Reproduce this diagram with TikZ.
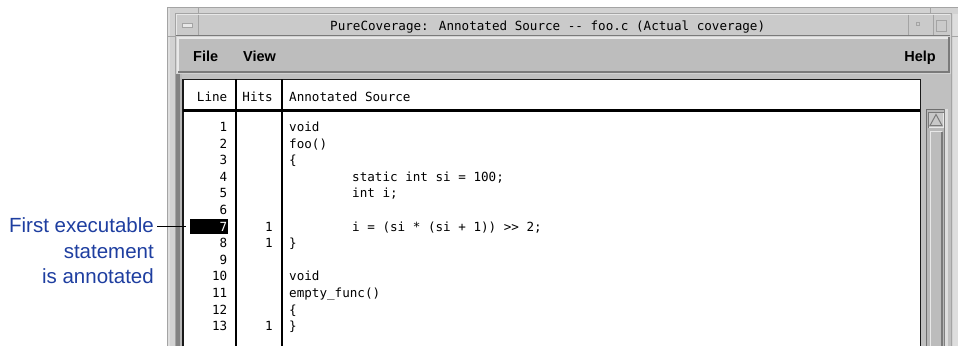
\documentclass[tikz,border=0pt]{standalone}
\usepackage{fontspec}
\newfontfamily\monof{DejaVu Sans Mono}
\newfontfamily\sansf{Liberation Sans}
\usetikzlibrary{calc}
\definecolor{callblue}{RGB}{30,62,160}
\definecolor{frameL}{HTML}{D2D2D2}
\definecolor{frameLL}{HTML}{DEDEDE}
\definecolor{frameLn}{HTML}{A4A4A4}
\definecolor{titlebg}{HTML}{CACACA}
\definecolor{menubg}{HTML}{BDBDBD}
\definecolor{workbg}{HTML}{C0C0C0}
\definecolor{bevL}{HTML}{E8E8E8}
\definecolor{bevD}{HTML}{7A7A7A}
\definecolor{gA}{HTML}{828282}
\definecolor{gB}{HTML}{B8B8B8}
\definecolor{gC}{HTML}{6E6E6E}
\definecolor{gD}{HTML}{808080}
\definecolor{gE}{HTML}{DEDEDE}
\definecolor{gF}{HTML}{C8C8C8}
\definecolor{gG}{HTML}{BCBCBC}
\tikzset{
  code/.style={font=\monof\fontsize{12.6}{14}\selectfont, anchor=base west, inner sep=0pt},
  num/.style={font=\monof\fontsize{12.6}{14}\selectfont, anchor=base east, inner sep=0pt},
  menu/.style={font=\sansf\bfseries\fontsize{14.5}{16}\selectfont, inner sep=0pt},
  call/.style={font=\sansf\fontsize{20.5}{24}\selectfont, text=callblue, anchor=base east, inner sep=0pt},
  sep/.style={line width=2pt, black},
  tborder/.style={line width=1.5pt, black!90},
}
\begin{document}
\begin{tikzpicture}[x=1pt,y=-1pt]
\useasboundingbox (0,0) rectangle (958,346);
\fill[white] (0,0) rectangle (958,346);

% ---------- window frame ----------
\fill[frameL] (167,7) rectangle (958,346);
\fill[frameLL] (168,8) rectangle (170,346);
\fill[frameLL] (953,14) rectangle (958,346);
\draw[frameLn] (167.5,346) -- (167.5,7.5) -- (958,7.5);
\draw[frameLn] (175.5,346) -- (175.5,13.5) -- (951.5,13.5) -- (951.5,346);
\draw[frameLn] (198.5,7.5) -- (198.5,13.5);
\draw[frameLn] (930.5,7.5) -- (930.5,13.5);
\draw[frameLn] (167.5,36.5) -- (175.5,36.5);
\draw[frameLn] (951.5,36.5) -- (958,36.5);

% ---------- title bar ----------
\fill[titlebg] (176,14.5) rectangle (950,36);
\draw[bevL] (176.5,36) -- (176.5,14.5) -- (950,14.5);
\draw[frameLn] (198.5,14.5) -- (198.5,36);
\draw[frameLn] (908.5,14.5) -- (908.5,36);
\draw[frameLn] (933.5,14.5) -- (933.5,36);
\draw[bevD] (176,35.5) -- (950,35.5);
% minimize icon
\fill[bevL] (182,23.5) rectangle (193,27.5);
\draw[frameLn] (182.5,27.5) -- (192.5,27.5) -- (192.5,23.5) -- (182.5,23.5) -- cycle;
% right buttons
\draw[frameLn] (916.5,22.5) rectangle (919.5,25.5);
\draw[frameLn] (936.5,20.5) rectangle (946.5,31.5);
\node[code, anchor=base west] (title) at (330,30.7) {PureCoverage: Annotated Source -{}- foo.c (Actual coverage)};

% ---------- menu bar ----------
\fill[menubg] (177,37) rectangle (950,73);
\draw[bevL, line width=1.5pt] (177.75,73) -- (177.75,37.75) -- (950,37.75);
\draw[bevD, line width=2pt] (178,72) -- (949,72) -- (949,37);
\node[menu, anchor=base west] (mfile) at (193,61) {File};
\node[menu, anchor=base west] (mview) at (243,61) {View};
\node[menu, anchor=base east] (mhelp) at (936,61) {Help};

% ---------- work area ----------
\fill[workbg] (176,74) rectangle (951,346);
\fill[gA] (176,74) rectangle (180,346);
\fill[gB] (180,74) rectangle (182,346);

% ---------- table ----------
\fill[white] (183,79) rectangle (920,346);
\draw[tborder] (182.75,346) -- (182.75,79.25) -- (920.25,79.25) -- (920.25,346);
\draw[line width=2.2pt] (183,110.5) -- (920,110.5);
\draw[sep] (236,79) -- (236,346);
\draw[sep] (281.7,79) -- (281.7,346);

% header
\node[num] (hline) at (227.5,101) {Line};
\node[num] (hhits) at (273,101) {Hits};
\node[code] (hsrc) at (289,101) {Annotated Source};

% ---------- scrollbar ----------
\fill[gC] (926,109) rectangle (927,346);
\fill[gC] (926,109) rectangle (945,110);
\fill[gB] (927,110) rectangle (944,346);
\fill[gD] (944,109) rectangle (945,346);
\fill[gE] (945,109) rectangle (948,346);
% arrow button
\fill[gF] (928,112) rectangle (944,128);
\draw[bevD] (928.5,128) -- (928.5,112.5) -- (944,112.5);
\draw[bevL] (929,127.5) -- (943.5,127.5) -- (943.5,113);
\draw[bevD, line width=1pt] (930,125.5) -- (942,125.5) -- (936,114.5) -- cycle;
% slider
\fill[gG] (930,131) rectangle (943,346);
\draw[bevL, line width=1pt] (930.5,346) -- (930.5,131.5) -- (942,131.5);
\draw[bevD, line width=1.5pt] (942,132) -- (942,346);

% ---------- line numbers ----------
\node[fill=black, minimum width=38pt, minimum height=15.3pt, inner sep=0pt] (hl) at (209,226.6) {};
\foreach \k in {1,...,13}{
  \pgfmathsetmacro{\by}{131.5+(\k-1)*16.6}
  \ifnum\k=7
    \node[num, text=white] (n\k) at (227.5,\by) {\k};
  \else
    \node[num] (n\k) at (227.5,\by) {\k};
  \fi
}
% hits
\node[num] (h7) at (273,131.5+6*16.6) {1};
\node[num] (h8) at (273,131.5+7*16.6) {1};
\node[num] (h13) at (273,131.5+12*16.6) {1};

% ---------- source ----------
\node[code] (s1) at (289,131.5) {void};
\node[code] (s2) at (289,131.5+1*16.6) {foo()};
\node[code] (s3) at (289,131.5+2*16.6) {\{};
\node[code] (s4) at (352,131.5+3*16.6) {static int si = 100;};
\node[code] (s5) at (352,131.5+4*16.6) {int i;};
\node[code] (s7) at (352,131.5+6*16.6) {i = (si * (si + 1)) >{}> 2;};
\node[code] (s8) at (289,131.5+7*16.6) {\}};
\node[code] (s10) at (289,131.5+9*16.6) {void};
\node[code] (s11) at (289,131.5+10*16.6) {empty\_func()};
\node[code] (s12) at (289,131.5+11*16.6) {\{};
\node[code] (s13) at (289,131.5+12*16.6) {\}};

% ---------- callout ----------
\node[call] (c1) at (154,232.5) {First executable};
\node[call] (c2) at (154,258) {statement};
\node[call] (c3) at (154,283.5) {is annotated};
\draw[line width=1pt, shorten >=4pt] ([xshift=3pt]c1.east |- hl.west) -- (hl.west);
\end{tikzpicture}
\end{document}
